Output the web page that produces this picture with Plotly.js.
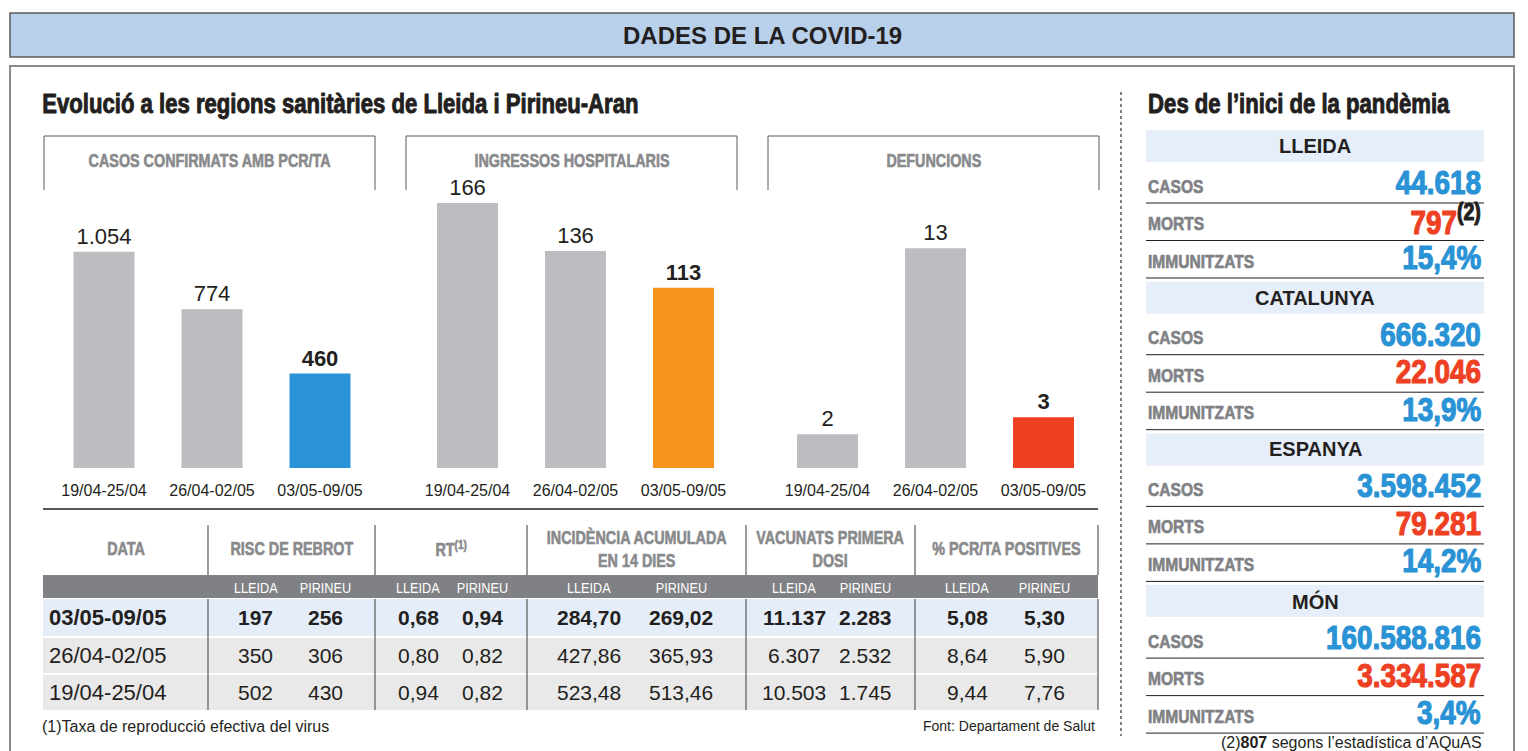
<!DOCTYPE html>
<html><head><meta charset="utf-8">
<script src="https://cdn.plot.ly/plotly-3.0.1.min.js"></script>
<style>html,body{margin:0;padding:0;background:#fff;overflow:hidden}</style>
</head><body><div id="chart" style="width:1528px;height:751px"></div>
<script>
// ---------- DATA ----------
const weeks = ['19/04-25/04', '26/04-02/05', '03/05-09/05'];
const casosPCR = [1054, 774, 460];
const ingressos = [166, 136, 113];
const defuncions = [2, 13, 3];
const panelTitles = ['CASOS CONFIRMATS AMB PCR/TA', 'INGRESSOS HOSPITALARIS', 'DEFUNCIONS'];

const tableDates = ['03/05-09/05', '26/04-02/05', '19/04-25/04'];
const tableHeaders = ['DATA', 'RISC DE REBROT', 'RT<sup>(1)</sup>', 'INCIDÈNCIA ACUMULADA<br>EN 14 DIES', 'VACUNATS PRIMERA<br>DOSI', '% PCR/TA POSITIVES'];
const subHeaders = ['LLEIDA', 'PIRINEU'];
const riscLleida = ['197', '350', '502'];
const riscPirineu = ['256', '306', '430'];
const rtLleida = ['0,68', '0,80', '0,94'];
const rtPirineu = ['0,94', '0,82', '0,82'];
const iaLleida = ['284,70', '427,86', '523,48'];
const iaPirineu = ['269,02', '365,93', '513,46'];
const vacLleida = ['11.137', '6.307', '10.503'];
const vacPirineu = ['2.283', '2.532', '1.745'];
const pcrLleida = ['5,08', '8,64', '9,44'];
const pcrPirineu = ['5,30', '5,90', '7,76'];

const regions = ['LLEIDA', 'CATALUNYA', 'ESPANYA', 'MÓN'];
const rowLabels = ['CASOS', 'MORTS', 'IMMUNITZATS'];
const totalCasos = ['44.618', '666.320', '3.598.452', '160.588.816'];
const totalMorts = ['797', '22.046', '79.281', '3.334.587'];
const immunitzats = ['15,4%', '13,9%', '14,2%', '3,4%'];

const titleMain = 'DADES DE LA COVID-19';
const titleLeft = 'Evolució a les regions sanitàries de Lleida i Pirineu-Aran';
const titleRight = 'Des de l’inici de la pandèmia';
const note1 = '(1)Taxa de reproducció efectiva del virus';
const sourceNote = 'Font: Departament de Salut';
const note2 = '(2)<b>807</b> segons l’estadística d’AQuAS';
const note2Mark = '(2)';

// ---------- STYLE ----------
const W = 1528, H = 751;
const X = x => x / W, Y = y => 1 - y / H;
const REG = "'Liberation Sans', Arial, sans-serif";
const NARROW = 0.82;   // horizontal squeeze giving a condensed face
const DARK = '#231f20', GREYTXT = '#898a8c', BARGREY = '#bcbdc0';
const BLUE = '#2a93d5', ORANGE = '#f7941d', RED = '#ee4123';
const hlColors = [BLUE, ORANGE, RED];

const fmt = n => String(n).replace(/\B(?=(\d{3})+(?!\d))/g, '.');

const shapes = [], annotations = [], condensed = [];
function line(x0, y0, x1, y1, color, width, dash) {
  shapes.push({type: 'line', xref: 'paper', yref: 'paper', x0: X(x0), y0: Y(y0), x1: X(x1), y1: Y(y1),
    line: {color: color, width: width, dash: dash || 'solid'}, layer: 'above'});
}
function rect(x0, y0, x1, y1, fill, lc, lw) {
  shapes.push({type: 'rect', xref: 'paper', yref: 'paper', x0: X(x0), y0: Y(y0), x1: X(x1), y1: Y(y1),
    fillcolor: fill || 'rgba(0,0,0,0)', line: {color: lc || 'rgba(0,0,0,0)', width: lw || 0}, layer: 'below'});
}
// cond: 0 = normal, 1 = condensed, 2 = condensed + heavy
function txt(x, y, s, size, color, anchor, cond) {
  if (cond) condensed.push({i: annotations.length, anchor: anchor || 'center', heavy: cond === 2, size: size});
  annotations.push({xref: 'paper', yref: 'paper', x: X(x), y: Y(y), text: s, showarrow: false,
    xanchor: anchor || 'center', yanchor: 'middle', font: {size: size, color: color, family: REG}});
}

// frame + banner
rect(10, 66, 1514, 800, null, '#8c8c8c', 2);
rect(10, 13, 1514, 57, '#b9d0eb', '#58595b', 1.5);
txt(762, 36, '<b>' + titleMain + '</b>', 24, DARK);
txt(40, 104, '<b>' + titleLeft + '</b>', 27, DARK, 'left', 2);
txt(1146, 104, '<b>' + titleRight + '</b>', 27, DARK, 'left', 2);
line(1121, 92, 1121, 736, '#555', 1.5, 'dot');

// ---------- BAR PANELS ----------
const series = [casosPCR, ingressos, defuncions];
const panelLeft = [44, 406, 768];
const panelW = 331;
const barDomLeft = [50, 413.5, 773.5];
const yMax = [1355, 174.2, 16.45];
const data = [];
const layout = {
  width: W, height: H, margin: {l: 0, r: 0, t: 0, b: 0},
  paper_bgcolor: '#fff', plot_bgcolor: 'rgba(0,0,0,0)', showlegend: false,
  bargap: 0.435, shapes: shapes, annotations: annotations, hovermode: false
};
series.forEach((vals, i) => {
  const xa = 'x' + (i ? i + 1 : ''), ya = 'y' + (i ? i + 1 : '');
  data.push({
    type: 'bar', x: weeks, y: vals, xaxis: xa, yaxis: ya,
    marker: {color: vals.map((v, k) => k === vals.length - 1 ? hlColors[i] : BARGREY)},
    text: vals.map((v, k) => k === vals.length - 1 ? '<b>' + fmt(v) + '</b>' : fmt(v)),
    textposition: 'outside', cliponaxis: false,
    textfont: {size: 22, color: DARK, family: REG},
    hoverinfo: 'none'
  });
  layout['xaxis' + (i ? i + 1 : '')] = {
    domain: [X(barDomLeft[i]), X(barDomLeft[i] + 324)], anchor: ya, type: 'category',
    range: [-0.5, 2.5], showgrid: false, zeroline: false, showline: false, ticks: '',
    tickfont: {size: 16, color: DARK, family: REG}, ticklabelstandoff: 11, fixedrange: true
  };
  layout['yaxis' + (i ? i + 1 : '')] = {
    domain: [Y(468), Y(190)], anchor: xa, range: [0, yMax[i]], visible: false, fixedrange: true
  };
  const l = panelLeft[i], r = l + panelW;
  line(l, 190, l, 136, '#58595b', 1);
  line(l, 136, r, 136, '#58595b', 1);
  line(r, 136, r, 190, '#58595b', 1);
  txt((l + r) / 2, 161, '<b>' + panelTitles[i] + '</b>', 17.5, GREYTXT, 'center', 2);
});

// ---------- TABLE ----------
const colX = [43, 208, 375, 527, 746, 915, 1098];
const subFrac = [0.285, 0.705];
line(43, 509, 1098, 509, DARK, 1.5);
rect(43, 575, 1098, 598, '#808184');
const rowTop = [599, 638, 675], rowBot = [636, 673, 710];
const rowFill = ['#e4edf8', '#e9e9ea', '#e9e9ea'];
rowTop.forEach((t, r) => rect(43, t, 1098, rowBot[r], rowFill[r]));
for (let c = 1; c < colX.length; c++) {
  line(colX[c], 525, colX[c], 575, '#58595b', 1.2);
  line(colX[c], 599, colX[c], 710, '#58595b', 1.2);
}
tableHeaders.forEach((h, c) => {
  txt((colX[c] + colX[c + 1]) / 2, 549, '<b>' + h + '</b>', 17.5, GREYTXT, 'center', 2);
});
const pairs = [[riscLleida, riscPirineu], [rtLleida, rtPirineu], [iaLleida, iaPirineu], [vacLleida, vacPirineu], [pcrLleida, pcrPirineu]];
pairs.forEach((p, j) => {
  const c0 = colX[j + 1], w = colX[j + 2] - colX[j + 1];
  p.forEach((arr, k) => {
    const cx = c0 + w * subFrac[k];
    txt(cx, 587, subHeaders[k], 15.5, '#ffffff', 'center', 1);
    arr.forEach((v, r) => {
      const cy = (rowTop[r] + rowBot[r]) / 2;
      txt(cx, cy, r === 0 ? '<b>' + v + '</b>' : v, 21, DARK);
    });
  });
});
tableDates.forEach((d, r) => {
  const cy = (rowTop[r] + rowBot[r]) / 2;
  txt(47, cy, r === 0 ? '<b>' + d + '</b>' : d, 22, DARK, 'left');
});
txt(40, 726, note1, 16, DARK, 'left');
txt(1097, 726, sourceNote, 14, DARK, 'right');

// ---------- RIGHT PANEL ----------
const valueCols = [totalCasos, totalMorts, immunitzats];
const valueColors = [BLUE, RED, BLUE];
regions.forEach((reg, i) => {
  const T = 130 + i * 151.7;
  rect(1146, T, 1484, T + 32, '#e5eef9');
  txt(1315, T + 16, '<b>' + reg + '</b>', 20, DARK);
  const rowC = [T + 55, T + 92.5, T + 130];
  const lines = [T + 73, T + 110.5, T + 148];
  rowLabels.forEach((lab, k) => {
    txt(1146, rowC[k] + 1, '<b>' + lab + '</b>', 19, '#808285', 'left', 2);
    let v = '<b>' + valueCols[k][i] + '</b>';
    if (k === 1 && i === 0) v += '<sup><span style="color:' + DARK + '"><b>' + note2Mark + '</b></span></sup>';
    txt(1483, rowC[k] - 3, v, 34, valueColors[k], 'right', 2);
    line(1146, lines[k], 1484, lines[k], DARK, 1);
  });
});
txt(1484, 742, note2, 16, DARK, 'right');

Plotly.newPlot('chart', data, layout, {staticPlot: true, displayModeBar: false}).then(gd => {
  condensed.forEach(c => {
    const t = gd.querySelector('.infolayer g.annotation[data-index="' + c.i + '"] text.annotation-text');
    if (!t) return;
    const b = t.getBBox();
    const ax = c.anchor === 'left' ? b.x : c.anchor === 'right' ? b.x + b.width : b.x + b.width / 2;
    const prev = t.getAttribute('transform') || '';
    t.setAttribute('transform', prev + ' translate(' + ax + ',0) scale(' + NARROW + ',1) translate(' + (-ax) + ',0)');
    if (c.heavy) {
      const sw = (c.size * 0.035).toFixed(2) + 'px';
      [t].concat(Array.from(t.querySelectorAll('tspan'))).forEach(el => {
        el.style.stroke = getComputedStyle(el).fill;
        el.style.strokeWidth = sw;
        el.style.strokeLinejoin = 'round';
      });
    }
  });
});
</script></body></html>
